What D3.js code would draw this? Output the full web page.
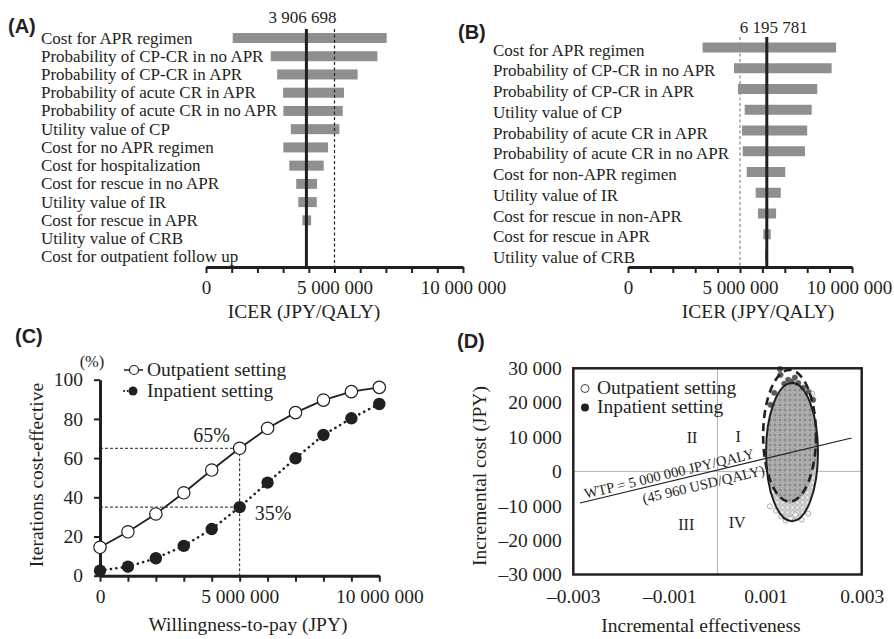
<!DOCTYPE html>
<html>
<head>
<meta charset="utf-8">
<script src="https://cdn.jsdelivr.net/npm/d3@7"></script>
<style>
  body { margin: 0; background: #fff; }
  text { font-family: "Liberation Serif", "Times New Roman", serif; fill: #231f20; }
  .panel { font-family: "Liberation Sans", Arial, sans-serif; font-weight: bold; font-size: 20px; }
</style>
</head>
<body>
<svg id="fig" width="894" height="639"></svg>
<script>
// ---- (A) tornado, outpatient setting
const labelsA = [
  "Cost for APR regimen",
  "Probability of CP-CR in no APR",
  "Probability of CP-CR in APR",
  "Probability of acute CR in APR",
  "Probability of acute CR in no APR",
  "Utility value of CP",
  "Cost for no APR regimen",
  "Cost for hospitalization",
  "Cost for rescue in no APR",
  "Utility value of IR",
  "Cost for rescue in APR",
  "Utility value of CRB",
  "Cost for outpatient follow up"
];
const lowA = [1040000, 2520000, 2770000, 3000000, 3010000, 3300000, 3010000, 3240000, 3510000, 3590000, 3750000, 3890000, 3906698];
const highA = [7030000, 6670000, 5900000, 5370000, 5320000, 5190000, 4750000, 4580000, 4320000, 4310000, 4090000, 3920000, 3906698];
const baseA = 3906698;

// ---- (B) tornado, inpatient setting
const labelsB = [
  "Cost for APR regimen",
  "Probability of CP-CR in no APR",
  "Probability of CP-CR in APR",
  "Utility value of CP",
  "Probability of acute CR in APR",
  "Probability of acute CR in no APR",
  "Cost for non-APR regimen",
  "Utility value of IR",
  "Cost for rescue in non-APR",
  "Cost for rescue in APR",
  "Utility value of CRB"
];
const lowB = [3330000, 4730000, 4910000, 5210000, 5090000, 5120000, 5300000, 5700000, 5800000, 6040000, 6120000];
const highB = [9290000, 9090000, 8450000, 8200000, 8000000, 7900000, 7020000, 6820000, 6610000, 6370000, 6230000];
const baseB = 6195781;

const wtpThreshold = 5000000;

// ---- (C) acceptability curves
const wtpC = [0, 1000000, 2000000, 3000000, 4000000, 5000000, 6000000, 7000000, 8000000, 9000000, 10000000];
const outpatientC = [14.5, 22.4, 31.5, 42.3, 53.9, 65, 75.2, 83.2, 89.6, 93.9, 96.1];
const inpatientC = [2.6, 4.6, 8.9, 15.2, 23.8, 35, 47.5, 59.9, 71.8, 80.3, 87.6];
const markedC = [65, 35];

// ---- (D) cost-effectiveness plane
const ellipseCenter = [[0.00155, 5600], [0.0015, 10400]];   // outpatient, inpatient
const ellipseRadius = [[0.00054, 20100], [0.00055, 19150]];
const inpE = [0.0013, 0.00147, 0.00154, 0.00168, 0.00139, 0.00178, 0.00189, 0.00118, 0.0011, 0.00199, 0.00161, 0.00131];
const inpC = [29770, 26660, 26160, 25700, 25490, 24330, 23170, 22880, 19390, 20840, 27300, 28100];
const outE = [0.00109, 0.00133, 0.00151, 0.00175, 0.00189, 0.00122, 0.00162, 0.00142, 0.00197, 0.00114];
const outC = [-10170, -13080, -13750, -14040, -12300, -11420, -12590, -14300, 22600, -6000];
const wtpLineE = [-0.00286, 0.00279];
const wtpLineC = [-9190, 9710];

const fmt = d3.formatLocale({ decimal: ".", thousands: " ", grouping: [3], currency: ["", ""], minus: "\u2013" });
const fmtInt = fmt.format(",");
const fmtDec = fmt.format(".3f");

const svg = d3.select("#fig");
const ink = "#231f20";

function styleAxis(g, size) {
  g.attr("font-family", null).attr("font-size", null).attr("color", ink);
  g.select(".domain").attr("stroke-width", 3);
  g.selectAll(".tick line").attr("stroke-width", 2);
  g.selectAll(".tick text").style("font-size", size);
}

// tornado panel
function tornado(labels, lows, highs, base, o) {
  const x = d3.scaleLinear().domain([0, 10000000]).range(o.xr);
  const y = d3.scalePoint().domain(labels).range(o.yr);
  const g = svg.append("g");

  g.selectAll(".lab")
    .data(labels)
    .enter()
    .append("text")
    .attr("x", o.labX)
    .attr("y", (d) => y(d) + o.labDy)
    .style("font-size", "17px")
    .text((d) => d);

  g.selectAll(".bar")
    .data(labels)
    .enter()
    .append("rect")
    .attr("x", (d, i) => x(lows[i]))
    .attr("width", (d, i) => x(highs[i]) - x(lows[i]))
    .attr("y", (d) => y(d) - 5)
    .attr("height", 10)
    .attr("fill", "#8f8f8f");

  g.append("line")
    .attr("x1", x(wtpThreshold)).attr("x2", x(wtpThreshold))
    .attr("y1", o.lineTop).attr("y2", o.axisY)
    .attr("stroke", o.dashColor).attr("stroke-width", 1.2)
    .attr("stroke-dasharray", "3,2.5");

  g.append("line")
    .attr("x1", x(base)).attr("x2", x(base))
    .attr("y1", o.lineTop).attr("y2", o.axisY)
    .attr("stroke", ink).attr("stroke-width", 3);

  g.append("text")
    .attr("x", x(base) + o.baseDx)
    .attr("y", o.baseY)
    .attr("text-anchor", "middle")
    .style("font-size", "17px")
    .text(fmtInt(base));

  const ax = g.append("g")
    .attr("transform", "translate(0," + o.axisY + ")")
    .call(d3.axisBottom(x)
      .tickValues(d3.range(0, 10000001, 1000000))
      .tickSize(6).tickSizeOuter(0).tickPadding(8)
      .tickFormat((d) => (d % 5000000 === 0 ? fmtInt(d) : "")));
  styleAxis(ax, "19px");
  // keep the last label inside the page
  ax.selectAll(".tick text").filter((d) => d === 10000000).attr("dx", o.lastDx);

  g.append("text")
    .attr("x", o.titleX)
    .attr("y", 318)
    .attr("text-anchor", "middle")
    .style("font-size", "19.5px")
    .text("ICER (JPY/QALY)");
}

tornado(labelsA, lowA, highA, baseA, {
  xr: [206, 463], yr: [38, 256.8], labX: 41, labDy: 5.5,
  lineTop: 29, axisY: 267, dashColor: ink, baseDx: -4, baseY: 23, titleX: 304, lastDx: 0
});
tornado(labelsB, lowB, highB, baseB, {
  xr: [628, 852], yr: [47.5, 255], labX: 493, labDy: 8,
  lineTop: 37, axisY: 267, dashColor: "#8a8a8a", baseDx: 7, baseY: 33, titleX: 758, lastDx: -3
});

// ---- (C)
const xC = d3.scaleLinear().domain([0, 10000000]).range([100, 379.3]);
const yC = d3.scaleLinear().domain([0, 100]).range([575.7, 379.7]);
const gC = svg.append("g");

gC.selectAll(".guideH")
  .data(markedC)
  .enter()
  .append("line")
  .attr("x1", xC(0)).attr("x2", xC(wtpThreshold))
  .attr("y1", (d) => yC(d)).attr("y2", (d) => yC(d))
  .attr("stroke", ink).attr("stroke-width", 1).attr("stroke-dasharray", "3,2");
gC.append("line")
  .attr("x1", xC(wtpThreshold)).attr("x2", xC(wtpThreshold))
  .attr("y1", yC(markedC[0])).attr("y2", yC(0))
  .attr("stroke", ink).attr("stroke-width", 1).attr("stroke-dasharray", "3,2");

const lineC = (vals) => d3.line().x((d, i) => xC(wtpC[i])).y((d) => yC(d))(vals);

gC.append("path").attr("d", lineC(outpatientC))
  .attr("fill", "none").attr("stroke", ink).attr("stroke-width", 1.8);
gC.append("path").attr("d", lineC(inpatientC))
  .attr("fill", "none").attr("stroke", ink).attr("stroke-width", 2.6)
  .attr("stroke-linecap", "round").attr("stroke-dasharray", "0.1,5.4");

const axCx = gC.append("g")
  .attr("transform", "translate(0," + yC(0) + ")")
  .call(d3.axisBottom(xC)
    .tickValues(wtpC).tickSize(6).tickSizeOuter(0).tickPadding(7.5)
    .tickFormat((d) => (d % 5000000 === 0 ? fmtInt(d) : "")));
styleAxis(axCx, "19.5px");
const axCy = gC.append("g")
  .attr("transform", "translate(" + xC(0) + ",0)")
  .call(d3.axisLeft(yC).tickValues([0, 20, 40, 60, 80, 100]).tickSize(6).tickSizeOuter(0).tickPadding(11));
styleAxis(axCy, "19.5px");

gC.selectAll(".ptOut")
  .data(outpatientC)
  .enter()
  .append("circle")
  .attr("cx", (d, i) => xC(wtpC[i])).attr("cy", (d) => yC(d)).attr("r", 6.2)
  .attr("fill", "#fff").attr("stroke", ink).attr("stroke-width", 1.2);
gC.selectAll(".ptIn")
  .data(inpatientC)
  .enter()
  .append("circle")
  .attr("cx", (d, i) => xC(wtpC[i])).attr("cy", (d) => yC(d)).attr("r", 6.2)
  .attr("fill", ink);

gC.append("text").attr("x", xC(wtpThreshold) - 28).attr("y", yC(markedC[0]) - 6)
  .attr("text-anchor", "middle").style("font-size", "20px").text(markedC[0] + "%");
gC.append("text").attr("x", xC(wtpThreshold) + 15).attr("y", yC(markedC[1]) + 12.5)
  .style("font-size", "20px").text(markedC[1] + "%");

gC.append("text").attr("x", 92).attr("y", 367).attr("text-anchor", "middle")
  .style("font-size", "16.5px").text("(%)");

// legend C
gC.append("line").attr("x1", 124).attr("x2", 143).attr("y1", 370).attr("y2", 370)
  .attr("stroke", ink).attr("stroke-width", 1.5);
gC.append("circle").attr("cx", 134).attr("cy", 370).attr("r", 4.5)
  .attr("fill", "#fff").attr("stroke", ink).attr("stroke-width", 1.2);
gC.append("line").attr("x1", 124).attr("x2", 133).attr("y1", 391).attr("y2", 391)
  .attr("stroke", ink).attr("stroke-width", 2).attr("stroke-linecap", "round").attr("stroke-dasharray", "0.1,3.5");
gC.append("circle").attr("cx", 133).attr("cy", 391).attr("r", 4.5).attr("fill", ink);
gC.append("text").attr("x", 147).attr("y", 375.5).style("font-size", "19.5px").text("Outpatient setting");
gC.append("text").attr("x", 147).attr("y", 396.5).style("font-size", "19.5px").text("Inpatient setting");

gC.append("text").attr("x", 248).attr("y", 631).attr("text-anchor", "middle")
  .style("font-size", "19.5px").text("Willingness-to-pay (JPY)");
gC.append("text").attr("transform", "translate(43,475) rotate(-90)").attr("text-anchor", "middle")
  .style("font-size", "19.5px").text("Iterations cost-effective");

// ---- (D)
const xD = d3.scaleLinear().domain([-0.003, 0.003]).range([573.3, 861.7]);
const yD = d3.scaleLinear().domain([-30000, 30000]).range([574.5, 368.3]);
const gD = svg.append("g");

const defs = svg.append("defs");
const patDark = defs.append("pattern").attr("id", "cloudDark")
  .attr("width", 5).attr("height", 5).attr("patternUnits", "userSpaceOnUse");
patDark.append("rect").attr("width", 5).attr("height", 5).attr("fill", "#8c8c8c");
patDark.append("circle").attr("cx", 2.5).attr("cy", 2.5).attr("r", 1.8)
  .attr("fill", "#a4a4a4").attr("stroke", "#cfcfcf").attr("stroke-width", 0.7);
const patLight = defs.append("pattern").attr("id", "cloudLight")
  .attr("width", 5).attr("height", 5).attr("patternUnits", "userSpaceOnUse");
patLight.append("rect").attr("width", 5).attr("height", 5).attr("fill", "#cfcfcf");
patLight.append("circle").attr("cx", 2.5).attr("cy", 2.5).attr("r", 1.8)
  .attr("fill", "#eeeeee").attr("stroke", "#a9a9a9").attr("stroke-width", 0.6);

const ell = (i) => ({
  cx: xD(ellipseCenter[i][0]),
  cy: yD(ellipseCenter[i][1]),
  rx: xD(ellipseCenter[i][0] + ellipseRadius[i][0]) - xD(ellipseCenter[i][0]),
  ry: yD(ellipseCenter[i][1]) - yD(ellipseCenter[i][1] + ellipseRadius[i][1])
});
const eOut = ell(0), eIn = ell(1);

defs.append("clipPath").attr("id", "clipOut").append("ellipse")
  .attr("cx", eOut.cx).attr("cy", eOut.cy).attr("rx", eOut.rx).attr("ry", eOut.ry);

// zero lines
gD.append("line").attr("x1", xD(0)).attr("x2", xD(0)).attr("y1", yD(30000)).attr("y2", yD(-30000))
  .attr("stroke", "#b4b4b4").attr("stroke-width", 1);
gD.append("line").attr("x1", xD(-0.003)).attr("x2", xD(0.003)).attr("y1", yD(0)).attr("y2", yD(0))
  .attr("stroke", "#b4b4b4").attr("stroke-width", 1);

// point clouds
gD.append("ellipse").attr("cx", eOut.cx).attr("cy", eOut.cy).attr("rx", eOut.rx).attr("ry", eOut.ry)
  .attr("fill", "url(#cloudLight)");
gD.append("ellipse").attr("cx", eIn.cx).attr("cy", eIn.cy).attr("rx", eIn.rx + 2).attr("ry", eIn.ry + 2)
  .attr("fill", "url(#cloudDark)").attr("clip-path", "url(#clipOut)");

gD.selectAll(".outPt")
  .data(outE)
  .enter()
  .append("circle")
  .attr("cx", (d) => xD(d)).attr("cy", (d, i) => yD(outC[i])).attr("r", 2.6)
  .attr("fill", "#f4f4f4").attr("stroke", "#a0a0a0").attr("stroke-width", 0.8);
gD.selectAll(".inPt")
  .data(inpE)
  .enter()
  .append("circle")
  .attr("cx", (d) => xD(d)).attr("cy", (d, i) => yD(inpC[i])).attr("r", 2.8)
  .attr("fill", "#5a5a5a").attr("stroke", "#7a7a7a").attr("stroke-width", 0.6);

gD.append("ellipse").attr("cx", eIn.cx).attr("cy", eIn.cy).attr("rx", eIn.rx).attr("ry", eIn.ry)
  .attr("fill", "none").attr("stroke", ink).attr("stroke-width", 2.6).attr("stroke-dasharray", "8,5");
gD.append("ellipse").attr("cx", eOut.cx).attr("cy", eOut.cy).attr("rx", eOut.rx).attr("ry", eOut.ry)
  .attr("fill", "none").attr("stroke", ink).attr("stroke-width", 2);

// WTP line
const p1 = [xD(wtpLineE[0]), yD(wtpLineC[0])];
const p2 = [xD(wtpLineE[1]), yD(wtpLineC[1])];
gD.append("line").attr("x1", p1[0]).attr("y1", p1[1]).attr("x2", p2[0]).attr("y2", p2[1])
  .attr("stroke", ink).attr("stroke-width", 1.2);
const ang = Math.atan2(p2[1] - p1[1], p2[0] - p1[0]) * 180 / Math.PI;
const onLine = (px) => p1[1] + (px - p1[0]) * (p2[1] - p1[1]) / (p2[0] - p1[0]);
gD.append("text")
  .attr("transform", "translate(671," + onLine(671) + ") rotate(" + ang + ")")
  .attr("y", -3).attr("text-anchor", "middle").style("font-size", "14.5px")
  .text("WTP = 5 000 000 JPY/QALY");
gD.append("text")
  .attr("transform", "translate(701," + onLine(701) + ") rotate(" + ang + ")")
  .attr("y", 15.5).attr("text-anchor", "middle").style("font-size", "14.5px")
  .text("(45 960 USD/QALY)");

// quadrant labels
const quads = [["II", -0.00053, 9800], ["I", 0.00043, 10090], ["III", -0.00065, -15500], ["IV", 0.00041, -14900]];
gD.selectAll(".quad")
  .data(quads)
  .enter()
  .append("text")
  .attr("x", (d) => xD(d[1])).attr("y", (d) => yD(d[2]) + 5.5)
  .attr("text-anchor", "middle").style("font-size", "16px")
  .text((d) => d[0]);

// frame
gD.append("rect")
  .attr("x", xD(-0.003)).attr("y", yD(30000))
  .attr("width", xD(0.003) - xD(-0.003)).attr("height", yD(-30000) - yD(30000))
  .attr("fill", "none").attr("stroke", ink).attr("stroke-width", 2.5);

const axDx = gD.append("g")
  .attr("transform", "translate(0," + yD(-30000) + ")")
  .call(d3.axisBottom(xD).tickValues([-0.003, -0.001, 0.001, 0.003]).tickSize(0).tickPadding(14.5).tickFormat(fmtDec));
styleAxis(axDx, "19.5px");
axDx.select(".domain").remove();
const axDy = gD.append("g")
  .attr("transform", "translate(" + xD(-0.003) + ",0)")
  .call(d3.axisLeft(yD).tickValues(d3.range(-30000, 30001, 10000)).tickSize(0).tickPadding(11.5).tickFormat(fmtInt));
styleAxis(axDy, "19.5px");
axDy.select(".domain").remove();

// legend D
gD.append("circle").attr("cx", 585).attr("cy", 388.5).attr("r", 4)
  .attr("fill", "#fff").attr("stroke", "#444").attr("stroke-width", 1);
gD.append("circle").attr("cx", 585).attr("cy", 407.5).attr("r", 4).attr("fill", ink);
gD.append("text").attr("x", 597).attr("y", 394).style("font-size", "19.5px").text("Outpatient setting");
gD.append("text").attr("x", 597).attr("y", 413).style("font-size", "19.5px").text("Inpatient setting");

gD.append("text").attr("x", 701).attr("y", 632).attr("text-anchor", "middle")
  .style("font-size", "19.5px").text("Incremental effectiveness");
gD.append("text").attr("transform", "translate(486,476) rotate(-90)").attr("text-anchor", "middle")
  .style("font-size", "19.5px").text("Incremental cost (JPY)");

// panel letters
svg.append("text").attr("class", "panel").attr("x", 8).attr("y", 33).text("(A)");
svg.append("text").attr("class", "panel").attr("x", 458).attr("y", 39).text("(B)");
svg.append("text").attr("class", "panel").attr("x", 15).attr("y", 343).text("(C)");
svg.append("text").attr("class", "panel").attr("x", 457).attr("y", 347.5).text("(D)");
</script>
</body>
</html>
